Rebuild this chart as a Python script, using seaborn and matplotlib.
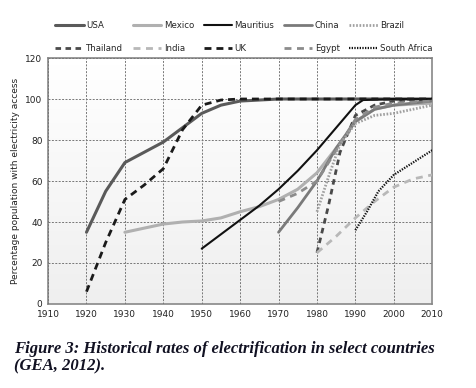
import numpy as np
import pandas as pd
import matplotlib
matplotlib.use("Agg")
import matplotlib.pyplot as plt
import seaborn as sns

# Data (percentage of population with electricity access)
usa_years = [1920, 1925, 1930, 1935, 1940, 1945, 1950, 1955, 1960, 1965, 1970, 1980, 1990, 2000, 2010]
usa_vals = [35, 55, 69, 74, 79, 86, 93, 97, 99, 99.5, 100, 100, 100, 100, 100]

uk_years = [1920, 1925, 1930, 1935, 1940, 1945, 1950, 1955, 1960, 1970, 1980, 1990, 2000, 2010]
uk_vals = [6, 30, 51, 58, 66, 85, 97, 99.5, 100, 100, 100, 100, 100, 100]

mexico_years = [1930, 1935, 1940, 1945, 1950, 1955, 1960, 1965, 1970, 1975, 1980, 1985, 1990, 1995, 2000, 2010]
mexico_vals = [35, 37, 39, 40, 40.5, 42, 45, 47.5, 51, 56, 64, 76, 89, 95, 97, 98]

mauritius_years = [1950, 1955, 1960, 1965, 1970, 1975, 1980, 1985, 1990, 1992, 2000, 2010]
mauritius_vals = [27, 34, 41, 48, 56, 65, 75, 86, 97, 99.5, 100, 100]

china_years = [1970, 1975, 1980, 1985, 1990, 1995, 2000, 2005, 2010]
china_vals = [35, 47, 60, 76, 89, 95, 97, 98, 99]

brazil_years = [1980, 1983, 1986, 1990, 1995, 2000, 2005, 2010]
brazil_vals = [45, 62, 78, 88, 92, 93, 95, 97]

thailand_years = [1980, 1983, 1986, 1990, 1995, 2000, 2005, 2010]
thailand_vals = [25, 48, 74, 92, 97, 99, 99.5, 99.5]

egypt_years = [1970, 1975, 1980, 1985, 1990, 1995, 2000, 2005, 2010]
egypt_vals = [50, 54, 60, 75, 90, 96, 98, 98.5, 99]

india_years = [1980, 1985, 1990, 1995, 2000, 2005, 2010]
india_vals = [25, 33, 42, 50, 57, 61, 63]

safrica_years = [1990, 1993, 1996, 2000, 2005, 2010]
safrica_vals = [36, 45, 55, 63, 69, 75]

x_ticks = list(range(1910, 2011, 10))
y_ticks = list(range(0, 121, 20))

# name, years, values, color, linewidth, linestyle
series = [
    ("USA", usa_years, usa_vals, "#5a5a5a", 2.2, "-"),
    ("Thailand", thailand_years, thailand_vals, "#4a4a4a", 2.0, (0, (2, 1.6))),
    ("Mexico", mexico_years, mexico_vals, "#b0b0b0", 2.2, "-"),
    ("India", india_years, india_vals, "#b8b8b8", 2.0, (0, (2.5, 2))),
    ("Mauritius", mauritius_years, mauritius_vals, "#111111", 1.5, "-"),
    ("UK", uk_years, uk_vals, "#1a1a1a", 2.0, (0, (2.5, 1.8))),
    ("China", china_years, china_vals, "#7a7a7a", 2.0, "-"),
    ("Egypt", egypt_years, egypt_vals, "#8c8c8c", 2.0, (0, (2.5, 2))),
    ("Brazil", brazil_years, brazil_vals, "#a0a0a0", 2.0, (0, (0.6, 0.6))),
    ("South Africa", safrica_years, safrica_vals, "#111111", 1.6, (0, (0.6, 0.6))),
]

sns.set_style("white")
plt.rcParams['font.family'] = ['DejaVu Sans']

fig = plt.figure(figsize=(4.76, 3.88), dpi=100)
ax = fig.add_axes([0.101, 0.2165, 0.807, 0.634])

# background gradient (white at top to light grey at bottom)
grad = np.linspace(1, 0, 256).reshape(-1, 1)
ax.imshow(grad, extent=[1910, 2010, 0, 120], aspect="auto", cmap="Greys_r",
          vmin=-6.5, vmax=1, zorder=0, origin="upper")

for name, yrs, vals, col, lw, ls in series:
    df = pd.DataFrame({"year": yrs, "pct": vals})
    sns.lineplot(data=df, x="year", y="pct", ax=ax, color=col, lw=lw,
                 linestyle=ls, label=name, zorder=3)

ax.set_xlim(1910, 2010)
ax.set_ylim(0, 120)
ax.set_xticks(x_ticks)
ax.set_yticks(y_ticks)
ax.grid(True, color="#777777", linestyle=(0, (2, 1.5)), lw=0.7)
ax.set_axisbelow(False)
for gl in ax.get_xgridlines() + ax.get_ygridlines():
    gl.set_zorder(1)
ax.tick_params(length=0, labelsize=6.5, colors="#222222", pad=4)
ax.set_xlabel("")
ax.set_ylabel("Percentage population with electricity access", fontsize=6.5, color="#222222")
for sp in ax.spines.values():
    sp.set_color("#888888")
    sp.set_linewidth(1.2)

h, l = ax.get_legend_handles_labels()
ax.get_legend().remove()
fig.legend(h, l, ncol=5, loc="upper left", bbox_to_anchor=(0.1, 0.965),
           frameon=False, fontsize=6.2, handlelength=3.3, handletextpad=0.3,
           columnspacing=1.1, labelspacing=1.6)

fig.text(0.03, 0.045, "Figure 3: Historical rates of electrification in select countries\n(GEA, 2012).",
         family="Liberation Serif", style="italic", weight="bold", fontsize=12,
         color="#111122", linespacing=1.15)

fig.savefig("out.png", dpi=100)
